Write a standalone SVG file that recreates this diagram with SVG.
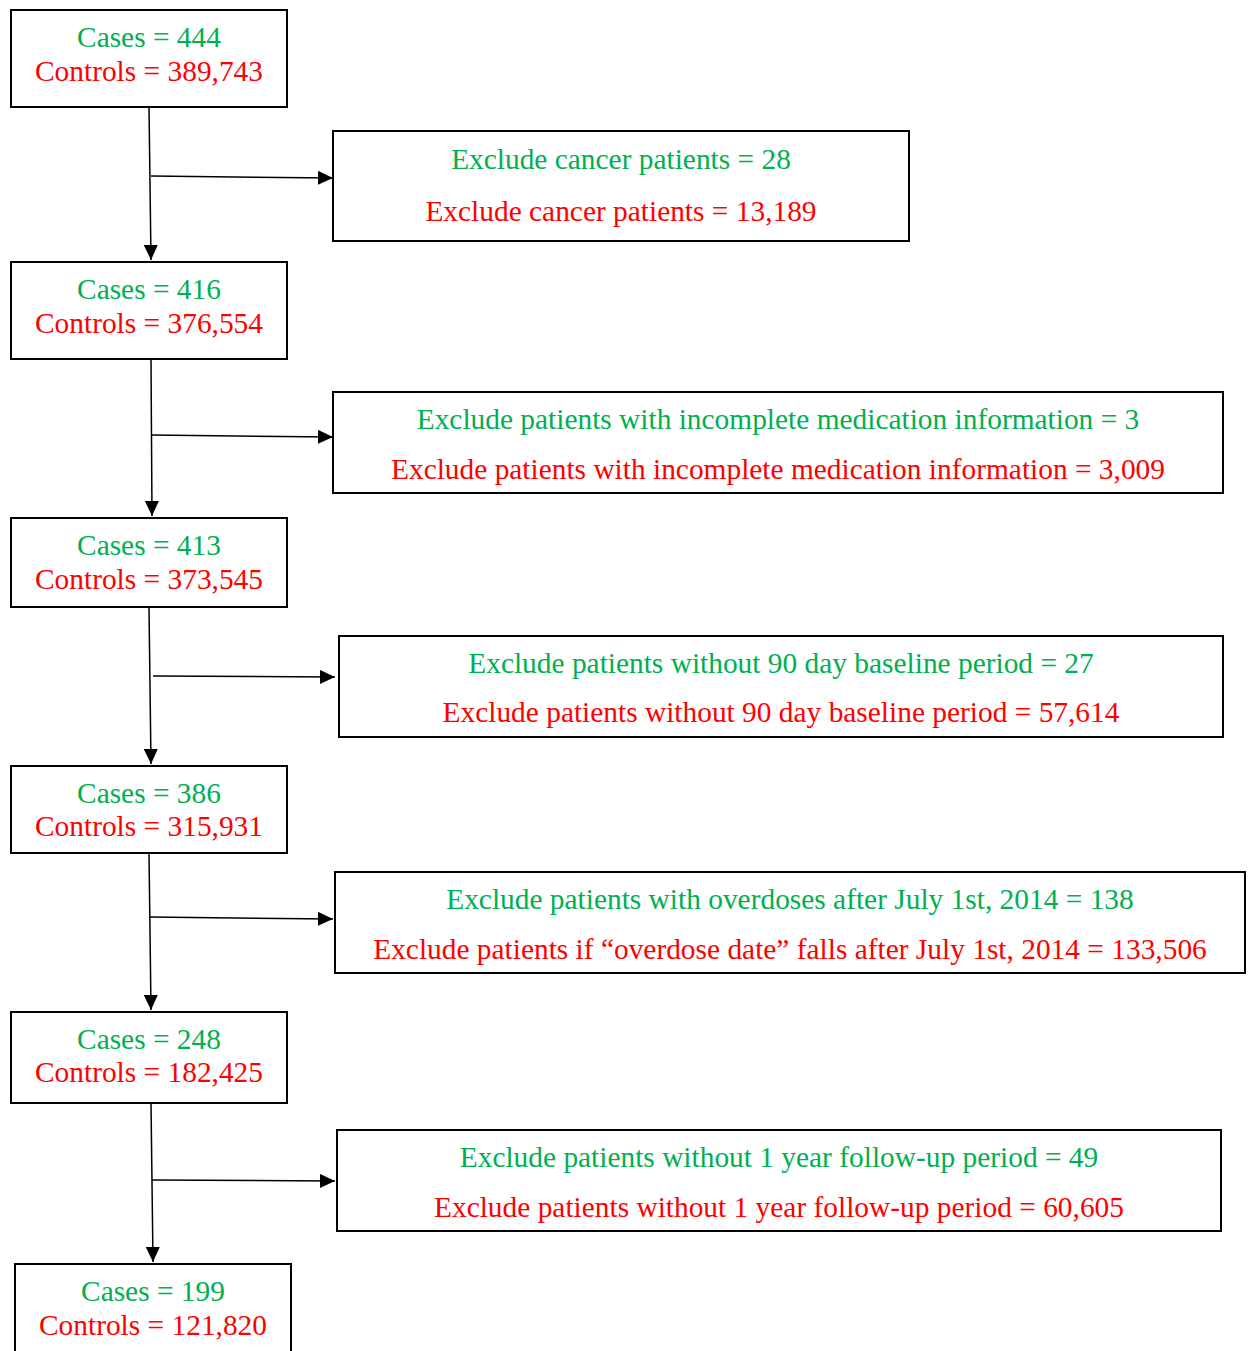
<svg xmlns="http://www.w3.org/2000/svg" width="1248" height="1351" viewBox="0 0 1248 1351">
<defs>
<marker id="arr" viewBox="0 0 15 14" refX="15" refY="7" markerWidth="15" markerHeight="14" markerUnits="userSpaceOnUse" orient="auto">
<path d="M0,0 L15,7 L0,14 Z" fill="#000"/>
</marker>
<style>
.box{fill:#fff;stroke:#000;stroke-width:2}
.g{fill:#00B050}
.r{fill:#FF0000}
text{font-family:"Liberation Serif","Times New Roman",serif;font-size:29.4px;text-anchor:middle}
.ln{stroke:#000;stroke-width:1.5;fill:none}
</style>
</defs>
<rect width="1248" height="1351" fill="#fff"/>
<g id="connectors">
<line class="ln" x1="149" y1="107" x2="151" y2="260" marker-end="url(#arr)"/>
<line class="ln" x1="151" y1="176" x2="333" y2="178" marker-end="url(#arr)"/>
<line class="ln" x1="151" y1="359" x2="152" y2="516" marker-end="url(#arr)"/>
<line class="ln" x1="152" y1="435" x2="333" y2="437" marker-end="url(#arr)"/>
<line class="ln" x1="149" y1="607" x2="151" y2="764" marker-end="url(#arr)"/>
<line class="ln" x1="153" y1="676" x2="335" y2="677" marker-end="url(#arr)"/>
<line class="ln" x1="149" y1="853" x2="151" y2="1010" marker-end="url(#arr)"/>
<line class="ln" x1="150" y1="917" x2="333" y2="919" marker-end="url(#arr)"/>
<line class="ln" x1="151" y1="1103" x2="153" y2="1262" marker-end="url(#arr)"/>
<line class="ln" x1="152" y1="1180" x2="335" y2="1181" marker-end="url(#arr)"/>
</g>
<g id="n1"><rect class="box" x="11" y="10" width="276" height="97"/><text class="g" x="149" y="47">Cases = 444</text><text class="r" x="149" y="81">Controls = 389,743</text></g>
<g id="n2"><rect class="box" x="11" y="262" width="276" height="97"/><text class="g" x="149" y="299">Cases = 416</text><text class="r" x="149" y="333">Controls = 376,554</text></g>
<g id="n3"><rect class="box" x="11" y="518" width="276" height="89"/><text class="g" x="149" y="555">Cases = 413</text><text class="r" x="149" y="589">Controls = 373,545</text></g>
<g id="n4"><rect class="box" x="11" y="766" width="276" height="87"/><text class="g" x="149" y="803">Cases = 386</text><text class="r" x="149" y="836">Controls = 315,931</text></g>
<g id="n5"><rect class="box" x="11" y="1012" width="276" height="91"/><text class="g" x="149" y="1049">Cases = 248</text><text class="r" x="149" y="1082">Controls = 182,425</text></g>
<g id="n6"><rect class="box" x="15" y="1264" width="276" height="100"/><text class="g" x="153" y="1301">Cases = 199</text><text class="r" x="153" y="1335">Controls = 121,820</text></g>
<g id="e1"><rect class="box" x="333" y="131" width="576" height="110"/><text class="g" x="621" y="169">Exclude cancer patients = 28</text><text class="r" x="621" y="221">Exclude cancer patients = 13,189</text></g>
<g id="e2"><rect class="box" x="333" y="392" width="890" height="101"/><text class="g" x="778" y="429">Exclude patients with incomplete medication information = 3</text><text class="r" x="778" y="479">Exclude patients with incomplete medication information = 3,009</text></g>
<g id="e3"><rect class="box" x="339" y="636" width="884" height="101"/><text class="g" x="781" y="673">Exclude patients without 90 day baseline period = 27</text><text class="r" x="781" y="722">Exclude patients without 90 day baseline period = 57,614</text></g>
<g id="e4"><rect class="box" x="335" y="872" width="910" height="101"/><text class="g" x="790" y="909">Exclude patients with overdoses after July 1st, 2014 = 138</text><text class="r" x="790" y="959">Exclude patients if “overdose date” falls after July 1st, 2014 = 133,506</text></g>
<g id="e5"><rect class="box" x="337" y="1130" width="884" height="101"/><text class="g" x="779" y="1167">Exclude patients without 1 year follow-up period = 49</text><text class="r" x="779" y="1217">Exclude patients without 1 year follow-up period = 60,605</text></g>
</svg>
